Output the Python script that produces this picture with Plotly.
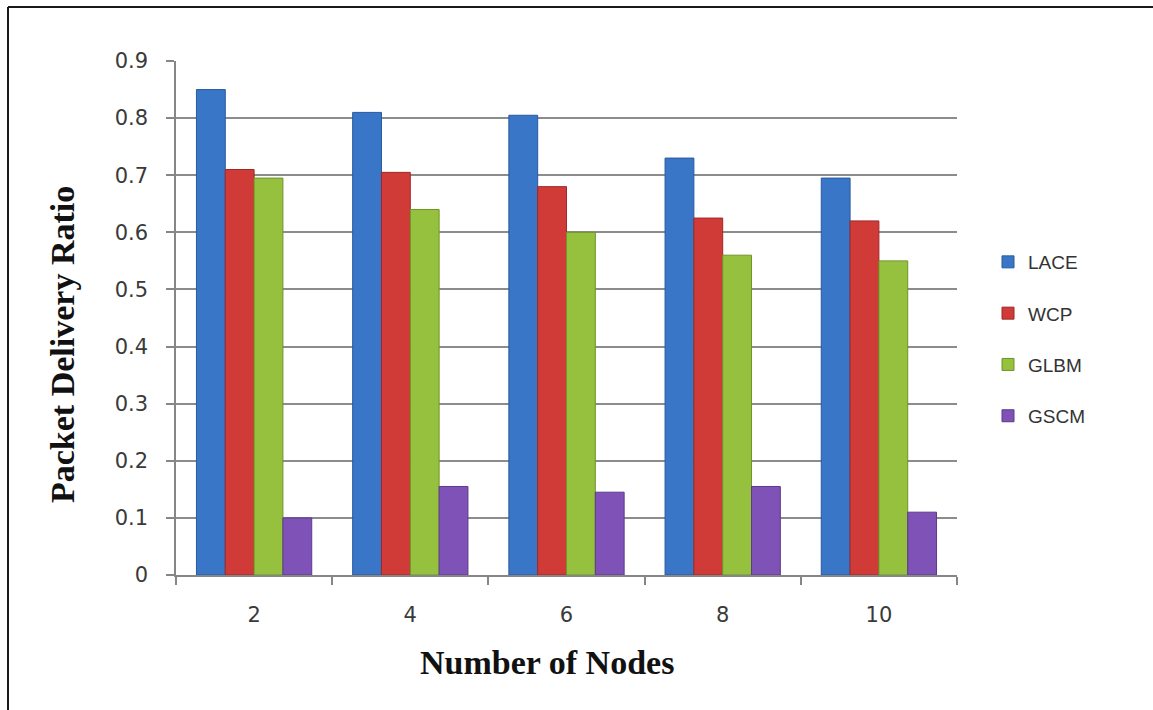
import plotly.graph_objects as go

# Number of nodes on the x axis
nodes = ["2", "4", "6", "8", "10"]

# Packet delivery ratio per protocol
lace = [0.85, 0.81, 0.805, 0.73, 0.695]
wcp = [0.71, 0.705, 0.68, 0.625, 0.62]
glbm = [0.695, 0.64, 0.60, 0.56, 0.55]
gscm = [0.10, 0.155, 0.145, 0.155, 0.11]

y_ticks = [0, 0.1, 0.2, 0.3, 0.4, 0.5, 0.6, 0.7, 0.8, 0.9]
y_labels = ["0", "0.1", "0.2", "0.3", "0.4", "0.5", "0.6", "0.7", "0.8", "0.9"]

series = [
    ("LACE", lace, "#3a76c8", "#285a9e"),
    ("WCP", wcp, "#d03b38", "#a02826"),
    ("GLBM", glbm, "#95c13f", "#6f9428"),
    ("GSCM", gscm, "#7e52b6", "#5c3a8a"),
]

fig = go.Figure()
for i, (name, vals, fill, edge) in enumerate(series):
    fig.add_trace(go.Bar(
        x=nodes, y=vals, name=name,
        legendgroup=name,
        marker=dict(color=fill, line=dict(color=edge, width=1)),
    ))

W, H = 1153, 710
L, R, T, B = 176, 196, 61, 135
pw, ph = W - L - R, H - T - B


def px(x):
    return (x - L) / pw


def py(y):
    return (H - B - y) / ph


axis_font = dict(family="DejaVu Sans", size=21, color="#3a3a3a")
title_font = dict(family="Liberation Serif", size=34, color="#111111")

fig.update_layout(
    width=W, height=H,
    margin=dict(l=L, r=R, t=T, b=B, pad=0),
    paper_bgcolor="white", plot_bgcolor="white",
    barmode="group", bargap=0.262, bargroupgap=0.0,
    showlegend=True,
    legend=dict(
        x=px(988), y=py(243), xanchor="left", yanchor="top",
        font=dict(family="Liberation Sans", size=19, color="#333333"),
        tracegroupgap=23.6, itemwidth=30,
        bgcolor="rgba(0,0,0,0)",
    ),
    xaxis=dict(
        type="category", showgrid=False,
        ticks="outside", ticklen=8, tickcolor="#868686", tickwidth=1.5,
        tickson="boundaries",
        showline=True, linecolor="#868686", linewidth=1.5,
        tickfont=axis_font, ticklabelstandoff=20,
    ),
    yaxis=dict(
        range=[0, 0.9], tickvals=y_ticks, ticktext=y_labels,
        showgrid=True, gridcolor="#8c8c8c", gridwidth=1.5,
        ticks="outside", ticklen=8, tickcolor="#868686", tickwidth=1.5,
        showline=True, linecolor="#868686", linewidth=1.5,
        zeroline=False,
        tickfont=axis_font, ticklabelstandoff=14,
    ),
    annotations=[
        dict(text="<b>Number of Nodes</b>", x=px(547), y=py(662),
             xref="paper", yref="paper", showarrow=False,
             xanchor="center", yanchor="middle", font=title_font),
        dict(text="<b>Packet Delivery Ratio</b>", x=px(62), y=py(344),
             xref="paper", yref="paper", showarrow=False, textangle=-90,
             xanchor="center", yanchor="middle", font=title_font),
    ],
    shapes=[
        # chart frame (top and left edges)
        dict(type="line", xref="paper", yref="paper",
             x0=px(8), x1=px(1160), y0=py(7), y1=py(7),
             line=dict(color="#1a1a1a", width=2)),
        dict(type="line", xref="paper", yref="paper",
             x0=px(8), x1=px(8), y0=py(7), y1=py(720),
             line=dict(color="#1a1a1a", width=2)),
    ],
)

fig.write_html("out.html")
